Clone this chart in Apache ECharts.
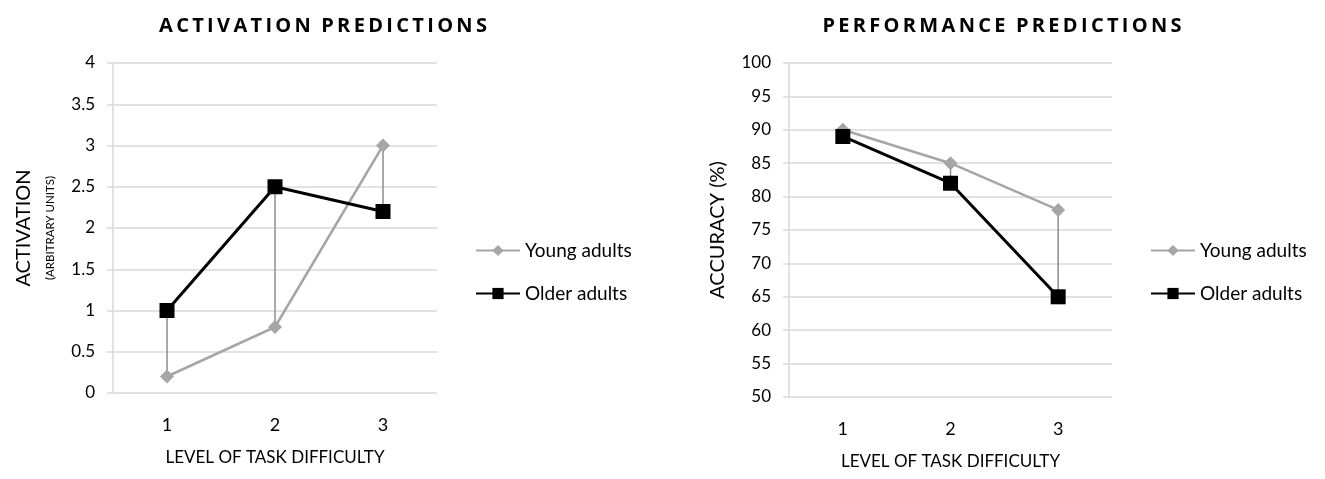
<!DOCTYPE html>
<html>
<head>
<meta charset="utf-8">
<script src="https://cdn.jsdelivr.net/npm/echarts@6/dist/echarts.min.js"></script>
<style>
  html, body { margin: 0; padding: 0; background: #fff; }
  #main { width: 1325px; height: 479px; }
</style>
</head>
<body>
<div id="main"></div>
<script>
const levels = ['1', '2', '3'];
const activationYoung = [0.2, 0.8, 3];
const activationOlder = [1, 2.5, 2.2];
const accuracyYoung = [90, 85, 78];
const accuracyOlder = [89, 82, 65];

const font = 'Lato, "Open Sans", sans-serif';
const gridColor = '#d9d9d9';
const youngColor = '#a6a6a6';

const chart = echarts.init(document.getElementById('main'));

// Excel style high-low lines between the two series
function dropLines(young, older) {
	return young.map(function (v, i) {
		return [i, Math.min(v, older[i]), Math.max(v, older[i])];
	});
}
function renderDrop(params, api) {
	const a = api.coord([api.value(0), api.value(1)]);
	const b = api.coord([api.value(0), api.value(2)]);
	return {
		type: 'line',
		shape: { x1: a[0], y1: a[1], x2: b[0], y2: b[1] },
		style: { stroke: '#8c8c8c', lineWidth: 1.5 }
	};
}

function xAxis(gridIndex) {
	return {
		type: 'category',
		gridIndex: gridIndex,
		data: levels,
		axisLine: { show: false },
		axisTick: { show: false },
		axisLabel: { color: '#000', fontFamily: font, fontSize: 18, margin: 23 },
		name: 'LEVEL OF TASK DIFFICULTY',
		nameLocation: 'middle',
		nameGap: 56,
		nameTextStyle: { color: '#000', fontFamily: font, fontSize: 17 }
	};
}

function yAxis(gridIndex, min, max, interval, name, gap) {
	return {
		type: 'value',
		gridIndex: gridIndex,
		min: min,
		max: max,
		interval: interval,
		axisLine: { show: true, lineStyle: { color: gridColor, width: 1.5 } },
		axisTick: { show: true, length: 6, lineStyle: { color: gridColor, width: 1.5 } },
		splitLine: { lineStyle: { color: gridColor, width: 1.5 } },
		axisLabel: { color: '#000', fontFamily: font, fontSize: 17, margin: 18 },
		name: name,
		nameLocation: 'middle',
		nameRotate: 90,
		nameGap: gap,
		nameTextStyle: {
			color: '#000', fontFamily: font, fontSize: 20, align: 'center', lineHeight: 30,
			rich: { s: { fontFamily: font, fontSize: 11.5, lineHeight: 22, color: '#000' } }
		}
	};
}

function lineSeries(name, data, idx, color, symbol, size, width) {
	return {
		name: name,
		type: 'line',
		xAxisIndex: idx,
		yAxisIndex: idx,
		data: data,
		symbol: symbol,
		symbolSize: size,
		lineStyle: { color: color, width: width },
		itemStyle: { color: color },
		z: 3
	};
}

const legendBase = {
	orient: 'vertical',
	itemWidth: 44,
	itemHeight: 14,
	itemGap: 24,
	textStyle: { color: '#000', fontFamily: font, fontSize: 19 },
	data: ['Young adults', 'Older adults']
};

const titleStyle = { color: '#000', fontFamily: '"Open Sans", sans-serif', fontSize: 20, fontWeight: 'bold' };

chart.setOption({
	animation: false,
	title: [
		{ text: 'A\u2009C\u2009T\u2009I\u2009V\u2009A\u2009T\u2009I\u2009O\u2009N  P\u2009R\u2009E\u2009D\u2009I\u2009C\u2009T\u2009I\u2009O\u2009N\u2009S', left: 318, top: 11, textAlign: 'center', textStyle: titleStyle },
		{ text: 'P\u2009E\u2009R\u2009F\u2009O\u2009R\u2009M\u2009A\u2009N\u2009C\u2009E  P\u2009R\u2009E\u2009D\u2009I\u2009C\u2009T\u2009I\u2009O\u2009N\u2009S', left: 997, top: 11, textAlign: 'center', textStyle: titleStyle }
	],
	legend: [
		Object.assign({ left: 470, top: 236, seriesIndex: [1, 2] }, legendBase),
		Object.assign({ left: 1145, top: 236 }, legendBase)
	],
	grid: [
		{ left: 113, top: 63, width: 324, height: 330 },
		{ left: 789, top: 63, width: 323, height: 334 }
	],
	xAxis: [xAxis(0), xAxis(1)],
	yAxis: [
		yAxis(0, 0, 4, 0.5, 'ACTIVATION\n{s|(ARBITRARY UNITS)}', 52),
		yAxis(1, 50, 100, 5, 'ACCURACY (%)', 56)
	],
	series: [
		{ type: 'custom', xAxisIndex: 0, yAxisIndex: 0, renderItem: renderDrop, data: dropLines(activationYoung, activationOlder), z: 1, silent: true },
		lineSeries('Young adults', activationYoung, 0, youngColor, 'diamond', 14, 2.5),
		lineSeries('Older adults', activationOlder, 0, '#000', 'rect', 15, 3),
		{ type: 'custom', xAxisIndex: 1, yAxisIndex: 1, renderItem: renderDrop, data: dropLines(accuracyYoung, accuracyOlder), z: 1, silent: true },
		lineSeries('Young adults', accuracyYoung, 1, youngColor, 'diamond', 14, 2.5),
		lineSeries('Older adults', accuracyOlder, 1, '#000', 'rect', 15, 3)
	]
});
window.onresize = chart.resize;
</script>
</body>
</html>
